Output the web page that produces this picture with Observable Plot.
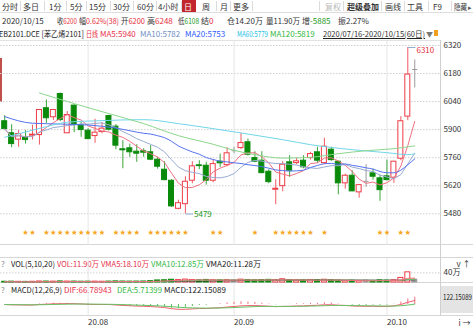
<!DOCTYPE html>
<html><head><meta charset="utf-8">
<script src="https://cdn.jsdelivr.net/npm/d3@7"></script>
<script src="https://cdn.jsdelivr.net/npm/@observablehq/plot@0.6"></script>
<style>
html,body{margin:0;padding:0;background:#fff;}
#root{position:relative;width:473px;height:328px;overflow:hidden;font-family:"Noto Sans CJK SC","Noto Sans",sans-serif;font-size:8px;color:#222;}
.t{position:absolute;white-space:nowrap;line-height:10px;transform-origin:0 50%;}
.n{font-family:"Liberation Sans Narrow","Noto Sans CJK SC","Noto Sans",sans-serif;}
.ln{position:absolute;background:#d9d9d9;}
.pl{position:absolute;left:0;}
.pl svg{display:block;}
</style></head><body><div id="root"></div>
<script>
// ================= DATA =================
const opens  = [5942,5882,5850,5862,5870,5873,6007,5962,6078,5882, 6020,5920,5895,5868,5888,5968,5915,5802,5807,5790, 5792,5787,5750,5700,5645,5505,5528,5645,5722,5720, 5645,5740,5723,5795,5808,5837,5758,5745,5690,5600, 5618,5737,5733,5745,5758,5787,5733,5800,5740,5632, 5670,5587,5642,5682,5657,5667,5660,5755,5965,6200];
const highs  = [5970,5925,5895,5895,5922,6000,6048,5998,6083,5990, 6023,5937,5905,5952,5935,5972,5925,5845,5828,5825, 5805,5820,5762,5740,5650,5548,5665,5740,5745,5737, 5750,5778,5810,5812,5882,5853,5790,5790,5700,5650, 5740,5770,5758,5770,5787,5812,5857,5812,5742,5678, 5695,5625,5725,5703,5673,5748,5742,5965,6310,6248];
const lows   = [5900,5810,5812,5828,5848,5823,5930,5945,5940,5880, 5885,5862,5850,5832,5880,5893,5800,5705,5762,5737, 5762,5745,5703,5645,5512,5500,5479,5630,5700,5623, 5635,5712,5715,5780,5800,5768,5735,5680,5630,5525, 5590,5662,5725,5705,5748,5732,5725,5742,5575,5603, 5590,5558,5612,5648,5542,5645,5632,5745,5945,6108];
const closes = [5903,5828,5878,5848,5875,5998,5957,5998,5948,5973, 5923,5898,5853,5885,5905,5900,5820,5797,5787,5780, 5785,5750,5715,5648,5517,5533,5640,5717,5718,5645, 5728,5732,5782,5795,5833,5775,5740,5683,5638,5605, 5725,5695,5742,5712,5778,5745,5815,5748,5632,5670, 5592,5623,5642,5665,5598,5648,5740,5942,6175,6200];
// volume, 万手
const volumes = [3.1,3.5,2.8,2.6,3.0,4.2,4.0,3.6,4.5,3.8, 3.9,3.3,3.5,3.6,3.2,3.8,4.6,4.1,3.7,3.9, 4.2,5.5,8.5,9.2,11.5,10.1,12.0,10.5,9.0,10.8, 9.6,8.8,10.2,9.4,11.8,10.6,9.2,10.4,11.0,9.8, 13.5,9.8,8.6,9.0,10.5,10.2,11.4,9.6,7.8,6.7, 7.6,6.9,7.8,6.8,8.8,8.2,9.1,19.0,42.4,11.9];
// long moving averages (index -> value)
const ma20HeadIdx = [0,4,8,12,16];
const ma20HeadVal = [5965,5932,5928,5923,5908];
const ma60Idx = [0,3,6,9,14,20,25,30,35,40,44,50,55,58,59];
const ma60Val = [5862,5888,5915,5937,5945,5950,5930,5905,5878,5850,5825,5800,5785,5775,5779];
const ma120Idx = [5,10,15,20,25,30,33,36,40,44,48,52,56,59];
const ma120Val = [6083,6030,5980,5930,5870,5827,5797,5775,5758,5762,5780,5795,5805,5819];
// signal stars (candle index)
const starIdx = [3,4,6,7,8,9,10,11,12,13,14,16,17,18,19,21,22,23,24,25,26,30,31,36,39,40,41,42,43,44,46,54,55,57,58];
// axes
const yTicks = [5480,5620,5760,5900,6040,6180,6320];
const volTicks = [40];
const monthIdx = [12,33,55];
const monthLabels = ["20.08","20.09","20.10"];
// texts
const tabs = ["分时","多日","1分","5分","15分","30分","60分","4小时","日","周","月","更多"];
const tools = ["复权","超级叠加","画线","工具","F9","隐藏"];
const quoteDate = "2020/10/15";
const quoteLabels = ["收","幅","开","高","低","结","仓","量","增","振"];
const quoteValues = ["6200","0.62%(38)","6200","6248","6108","0","14.20万","11.90万","-5885","2.27%"];
const contractName = "EB2101.DCE [苯乙烯2101]";
const dayLabel = "日线";
const maLabels = ["MA5:5940","MA10:5782","MA20:5753","MA60:5779","MA120:5819"];
const rangeLabel = "2020/07/16-2020/10/15(60日)";
const volLabels = ["VOL(5,10,20)","VOL:11.90万","VMA5:18.10万","VMA10:12.85万","VMA20:11.28万"];
const macdLabels = ["MACD(12,26,9)","DIF:66.78943","DEA:5.71399","MACD:122.15089"];
const macdLast = "122.15089";

// ================= RENDER =================
const root = document.getElementById("root");
const FONT = '"Noto Sans CJK SC","Noto Sans",sans-serif';
const RED = "#ee3b45", GREEN = "#0a8a0a", GREY = "#9a9a9a";
const TRED = "#e62e3c", TGREEN = "#1b9a1b", TLGREEN = "#33b844";

function put(x, yc, parts, extra, cls) {
  const e = document.createElement("div");
  e.className = "t" + (cls ? " " + cls : "");
  e.style.left = x + "px"; e.style.top = (yc - 5) + "px";
  for (const [s, c] of parts) { const sp = document.createElement("span"); sp.textContent = s; sp.style.color = c; e.appendChild(sp); }
  if (extra) Object.assign(e.style, extra);
  root.appendChild(e);
  return e;
}
function fit(el, maxW) {
  const w = el.getBoundingClientRect().width;
  if (w > maxW) el.style.transform = `scaleX(${(maxW / w).toFixed(3)})`;
}
// a row of texts, each squeezed to end before the next one starts
function row(yc, xs, partsList, end, cls) {
  const els = partsList.map((p, k) => put(xs[k], yc, p, null, cls));
  els.forEach((el, k) => fit(el, (k + 1 < xs.length ? xs[k + 1] - 2 : end) - xs[k]));
  return els;
}
function box(x, y, w, h, c) {
  const e = document.createElement("div");
  e.className = "ln";
  Object.assign(e.style, {left: x + "px", top: y + "px", width: w + "px", height: h + "px", background: c || "#d9d9d9"});
  root.appendChild(e);
  return e;
}
function place(svg, top) {
  const d = document.createElement("div");
  d.className = "pl"; d.style.top = top + "px";
  d.appendChild(svg); root.appendChild(d);
}

// toolbar
const tabX = [2,23,49,70,89,113,137,158,184,202,220,233];
const tabSep = [19.5,43.5,65.5,85.5,109.5,132.5,155.5,180.5,215.5,229.5,251.5];
box(182, 0, 14, 12, "#c1272d");
tabs.forEach((s, k) => put(tabX[k], 6.5, [[s, s === "日" ? "#fff" : "#333"]]));
tabSep.forEach(x => box(x, 1, 1, 10, "#dcdcdc"));
const toolX = [325,347,385,407,433,454];
const toolSep = [318.5,342.5,380.5,403.5,427.5,450.5];
tools.forEach((s, k) => {
  const el = put(toolX[k], 6.5, [[s, k === 0 ? "#bbb" : "#333"]], k === 1 ? {fontWeight: "bold"} : null);
  if (k === tools.length - 1) fit(el, 13);
});
put(468, 6.5, [["▸", "#555"]], {fontSize: "7px"});
toolSep.forEach(x => box(x, 1, 1, 10, "#dcdcdc"));
box(0, 12, 473, 1, "#dedede");

// quote row
const quoteX = [2,57,79,121,147,178,201,227,266,302,338];
const quoteCol = [TRED,TRED,TRED,TRED,TGREEN,TRED,"#333","#333",TGREEN,"#333"];
row(20.5, quoteX, [[[quoteDate, "#333"]]].concat(quoteLabels.map((s, k) => [[s, "#333"], [quoteValues[k], quoteCol[k]]])), 370, "n");

// MA row
const maCol = ["#e8304a","#6f8fc4","#2f5bff","#20c2e6",TLGREEN];
const row3X = [-1,86,100,140,185,237,270];
row(33.5, row3X, [[[contractName, "#222"]], [[dayLabel, TRED]]].concat(maLabels.map((s, k) => [[s, maCol[k]]])), 318, "n");
const rl = put(323, 33.5, [[rangeLabel, "#333"]], {textDecoration: "underline"}, "n");
fit(rl, 102);
put(426, 33.5, [["▼", "#777"]], {fontSize: "7px"});
box(434, 30, 4, 6, "#f0a020");

// panel frame lines
box(0, 40, 440, 1, "#e2e2e2");
box(0, 244, 473, 1, "#d6d6d6");
box(0, 257, 473, 1, "#d6d6d6");
box(0, 282, 473, 1, "#d6d6d6");
box(0, 315, 473, 1, "#d6d6d6");
box(440, 40, 1, 276, "#d0d0d0");
box(0, 58, 2, 44, "#c0504a");

const N = closes.length;
const xOpt = {domain: [-0.5, N - 0.5], range: [0.725, 417.725], axis: null};
const candles = d3.range(N).map(i => ({i, o: opens[i], h: highs[i], l: lows[i], c: closes[i], v: volumes[i]}));
const cc = d => d.c > d.o ? RED : d.c < d.o ? GREEN : GREY;
const wc = d => d.c > d.o ? "#f05a62" : d.c < d.o ? "#3aa53a" : GREY;
const bodies = candles.filter(d => d.o !== d.c);
const dojis = candles.filter(d => d.o === d.c);

const ma20 = ma20HeadIdx.map((i, k) => ({i, v: ma20HeadVal[k]}))
  .concat(d3.range(19, N).map(i => ({i, v: d3.mean(closes.slice(i - 19, i + 1))})));
const ma60 = ma60Idx.map((i, k) => ({i, v: ma60Val[k]}));
const ma120 = ma120Idx.map((i, k) => ({i, v: ma120Val[k]}));
const iMax = d3.maxIndex(highs), iMin = d3.minIndex(lows);
const hiLab = [{i: iMax, v: highs[iMax]}];
const loLab = [{i: iMin, v: lows[iMin]}];

const style = {fontFamily: FONT, fontSize: "8px", background: "transparent", color: "#333", overflow: "visible"};

const main = Plot.plot({
  width: 473, height: 204, marginLeft: 0, marginRight: 33, marginTop: 0, marginBottom: 0,
  x: xOpt,
  y: {domain: [5480, 6320], range: [172.3, 4]},
  color: {type: "identity"},
  style,
  marks: [
    Plot.gridY(yTicks, {stroke: "#cfcfcf", strokeOpacity: 1, strokeDasharray: "1.5,1.5"}),
    Plot.ruleX(monthIdx, {stroke: "#e6e6e6"}),
    Plot.axisY(yTicks, {anchor: "right", tickSize: 0, tickPadding: 3, fill: "#333", tickFormat: d => String(d)}),
    Plot.ruleX(candles, {x: "i", y1: "h", y2: d => Math.max(d.o, d.c), stroke: wc}),
    Plot.ruleX(candles, {x: "i", y1: d => Math.min(d.o, d.c), y2: "l", stroke: wc}),
    Plot.rect(bodies, {x1: d => d.i - 0.36, x2: d => d.i + 0.36, y1: "o", y2: "c", fill: d => d.c > d.o ? "#fff" : GREEN, stroke: cc}),
    Plot.link(dojis, {x1: d => d.i - 0.36, x2: d => d.i + 0.36, y1: "c", y2: "c", stroke: GREY}),
    Plot.lineY(closes, Plot.windowY({k: 5, anchor: "end"}, {stroke: "#f07080", strokeWidth: 1})),
    Plot.lineY(closes, Plot.windowY({k: 10, anchor: "end"}, {stroke: "#98acd2", strokeWidth: 1})),
    Plot.line(ma20, {x: "i", y: "v", stroke: "#5573f0", strokeWidth: 1, curve: "monotone-x"}),
    Plot.line(ma60, {x: "i", y: "v", stroke: "#72d6ea", strokeWidth: 1, curve: "monotone-x"}),
    Plot.line(ma120, {x: "i", y: "v", stroke: "#8cd68c", strokeWidth: 1, curve: "monotone-x"}),
    Plot.text(starIdx, {x: d => d, frameAnchor: "bottom", dy: -12, text: () => "★", fill: "#f5a623", fontSize: 6}),
    Plot.link(hiLab, {x1: "i", x2: d => d.i + 1.1, y1: "v", y2: "v", stroke: "#8fb0d0"}),
    Plot.text(hiLab, {x: d => d.i + 1.1, y: "v", text: d => String(d.v), fill: TRED, textAnchor: "start", dx: 1, dy: 3, fontSize: 8}),
    Plot.link(loLab, {x1: "i", x2: d => d.i + 1.1, y1: "v", y2: "v", stroke: "#8fb0d0"}),
    Plot.text(loLab, {x: d => d.i + 1.1, y: "v", text: d => String(d.v), fill: TGREEN, textAnchor: "start", dx: 1, fontSize: 8})
  ]
});
place(main, 41);

// volume panel
put(1, 264, [["?", "#888"]]);
const volX = [11,57,101,151,206];
const volCol = ["#222", "#e8304a", "#e8304a", TLGREEN, "#222"];
row(264, volX, volLabels.map((s, k) => [[s, volCol[k]]]), 262, "n");
const vol = Plot.plot({
  width: 473, height: 25, marginLeft: 0, marginRight: 33, marginTop: 0, marginBottom: 0,
  x: xOpt,
  y: {domain: [0, 100], range: [24, 0]},
  color: {type: "identity"},
  style,
  marks: [
    Plot.ruleX(monthIdx, {stroke: "#e6e6e6"}),
    Plot.gridY(volTicks, {stroke: "#d0d0d0", strokeOpacity: 1, strokeDasharray: "1.5,1.5"}),
    Plot.rect(candles, {x1: d => d.i - 0.36, x2: d => d.i + 0.36, y1: 0, y2: "v", fill: d => d.c > d.o ? "#fff" : d.c < d.o ? GREEN : GREY, stroke: cc}),
    Plot.lineY(volumes, Plot.windowY({k: 20, anchor: "end"}, {stroke: "#333", strokeWidth: 1})),
    Plot.lineY(volumes, Plot.windowY({k: 10, anchor: "end"}, {stroke: "#66c266", strokeWidth: 1})),
    Plot.lineY(volumes, Plot.windowY({k: 5, anchor: "end"}, {stroke: "#f07080", strokeWidth: 1})),
    Plot.axisY(volTicks, {anchor: "right", tickSize: 0, tickPadding: 3, fill: "#333", tickFormat: d => d + "万"})
  ]
});
place(vol, 258);

// MACD panel
put(1, 290, [["?", "#888"]]);
const macdX = [11,64,117,164];
const macdCol = ["#222", "#e8304a", TLGREEN, "#222"];
row(290, macdX, macdLabels.map((s, k) => [[s, macdCol[k]]]), 226, "n");
box(441, 286, 32, 27, "#e4e4e4");
fit(put(443, 297, [[macdLast, "#222"]], null, "n"), 29);

const ema = (arr, n) => { const a = 2 / (n + 1); let e; return arr.map((v, i) => (e = i === 0 ? v : a * v + (1 - a) * e)); };
const e12 = ema(closes, 12), e26 = ema(closes, 26);
const dif = closes.map((_, i) => e12[i] - e26[i]);
const dea = ema(dif, 9);
const macdData = dif.map((d, i) => ({i, dif: d, dea: dea[i], m: 2 * (d - dea[i])}));

const macd = Plot.plot({
  width: 473, height: 45, marginLeft: 0, marginRight: 33, marginTop: 0, marginBottom: 13,
  x: xOpt,
  y: {domain: [-183, 350], range: [32, 0], axis: null},
  color: {type: "identity"},
  style,
  marks: [
    Plot.ruleX(monthIdx, {stroke: "#e6e6e6"}),
    Plot.ruleX(macdData, {x: "i", y1: 0, y2: "m", stroke: d => d.m >= 0 ? "#f07080" : "#5cbf5c"}),
    Plot.line(macdData, {x: "i", y: "dif", stroke: "#f06070", strokeWidth: 1}),
    Plot.line(macdData, {x: "i", y: "dea", stroke: "#66c266", strokeWidth: 1}),
    Plot.axisX(monthIdx, {tickSize: 0, tickPadding: 4, textAnchor: "start", fill: "#333", tickFormat: d => monthLabels[monthIdx.indexOf(d)]})
  ]
});
place(macd, 283);
</script>
</body></html>
